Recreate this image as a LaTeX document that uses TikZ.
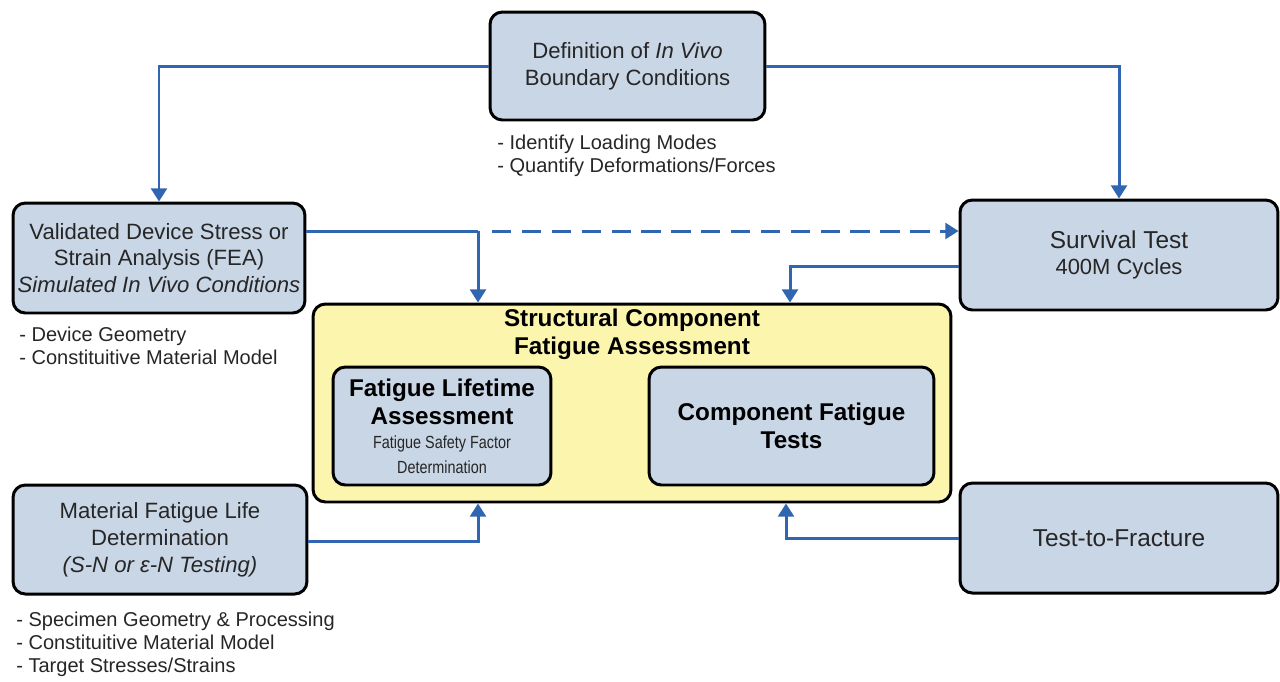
\documentclass[tikz,border=0pt]{standalone}
\usepackage{fontspec}
\setmainfont{Liberation Sans}
\newfontfamily\condfont[FakeStretch=0.82]{Liberation Sans}
\newcommand{\flbold}{\fontsize{13.8}{15.9}\selectfont\bfseries\color{black}}
\newcommand{\flsmall}{\condfont\fontsize{10}{14.7}\selectfont}
\usetikzlibrary{arrows.meta}
\definecolor{boxblue}{HTML}{C9D6E6}
\definecolor{boxyellow}{HTML}{FBF5AE}
\definecolor{flowblue}{HTML}{2F65B1}
\definecolor{txt}{HTML}{262626}
\tikzset{
  box/.style={draw=black, line width=1.7pt, rounded corners=7pt, fill=boxblue, align=center, text=txt, inner sep=0pt},
  ybox/.style={draw=black, line width=1.7pt, rounded corners=7pt, fill=boxyellow, inner sep=0pt},
  conn/.style={draw=flowblue, line width=1.7pt},
  flow/.style={conn, -{Triangle[width=9pt,length=7.5pt]}},
  mainf/.style={font=\fontsize{12.6}{15.3}\selectfont},
  bigf/.style={font=\fontsize{13.9}{17}\selectfont},
  boldf/.style={font=\fontsize{13.8}{15.9}\selectfont\bfseries},
  notes/.style={anchor=north west, align=left, text=txt, inner sep=0pt, font=\fontsize{11.4}{13}\selectfont},
}
\begin{document}
\begin{tikzpicture}[x=0.02cm, y=-0.02cm]
\useasboundingbox (0,0) rectangle (1280,681);

\node[box, mainf, minimum width=5.5cm, minimum height=2.16cm] (def) at (627.5,66)
  {Definition of \textit{In Vivo}\\Boundary Conditions};
\node[box, mainf, minimum width=5.84cm, minimum height=2.2cm] (val) at (159,258)
  {Validated Device Stress or\\Strain Analysis (FEA)\\\textit{Simulated In Vivo Conditions}};
\node[box, minimum width=6.36cm, minimum height=2.2cm] (surv) at (1119,255)
  {\fontsize{13.9}{16}\selectfont Survival Test\\[3pt]\fontsize{12.5}{14}\selectfont 400M Cycles};
\node[ybox, minimum width=12.76cm, minimum height=3.96cm] (yel) at (632,403) {};
\node[boldf, text=black, align=center, inner sep=0pt] (yeltitle) at (632,334)
  {Structural Component\\Fatigue Assessment};
\node[box, minimum width=4.36cm, minimum height=2.36cm] (fla) at (442,426)
  {\flbold Fatigue Lifetime\\[2.5pt]\flbold Assessment\\[2pt]\flsmall Fatigue Safety Factor\\[2pt]\flsmall Determination};
\node[box, boldf, text=black, minimum width=5.7cm, minimum height=2.36cm] (cft) at (791.5,426)
  {Component Fatigue\\Tests};
\node[box, mainf, minimum width=5.88cm, minimum height=2.18cm] (mat) at (160,539.5)
  {Material Fatigue Life\\Determination\\\textit{(S-N or ε-N Testing)}};
\node[box, bigf, minimum width=6.36cm, minimum height=2.2cm] (ttf) at (1119,538)
  {Test-to-Fracture};

\node[notes] (n1) at (497,135) {- Identify Loading Modes\\- Quantify Deformations/Forces};
\node[notes] (n2) at (19,327) {- Device Geometry\\- Constituitive Material Model};
\node[notes] (n3) at (16,612) {- Specimen Geometry \& Processing\\- Constituitive Material Model\\- Target Stresses/Strains};

\coordinate (j1) at (478,231);
\coordinate (j2) at (790,266);
\coordinate (j3) at (478,541);
\coordinate (j4) at (786,538);

\draw[flow] (def.west) -| (val.north);
\draw[flow] (def.east) -| (surv.north);
\draw[conn] (val.east |- j1) -- (j1);
\draw[flow] (j1) -- (j1 |- yel.north);
\draw[flow, dash pattern=on 11pt off 6pt] ([xshift=8pt]j1) -- (surv.west |- j1);
\draw[flow] (surv.west |- j2) -| (j2 |- yel.north);
\draw[flow] (mat.east |- j3) -| (j3 |- yel.south);
\draw[flow] (ttf.west |- j4) -| (j4 |- yel.south);
\end{tikzpicture}
\end{document}
